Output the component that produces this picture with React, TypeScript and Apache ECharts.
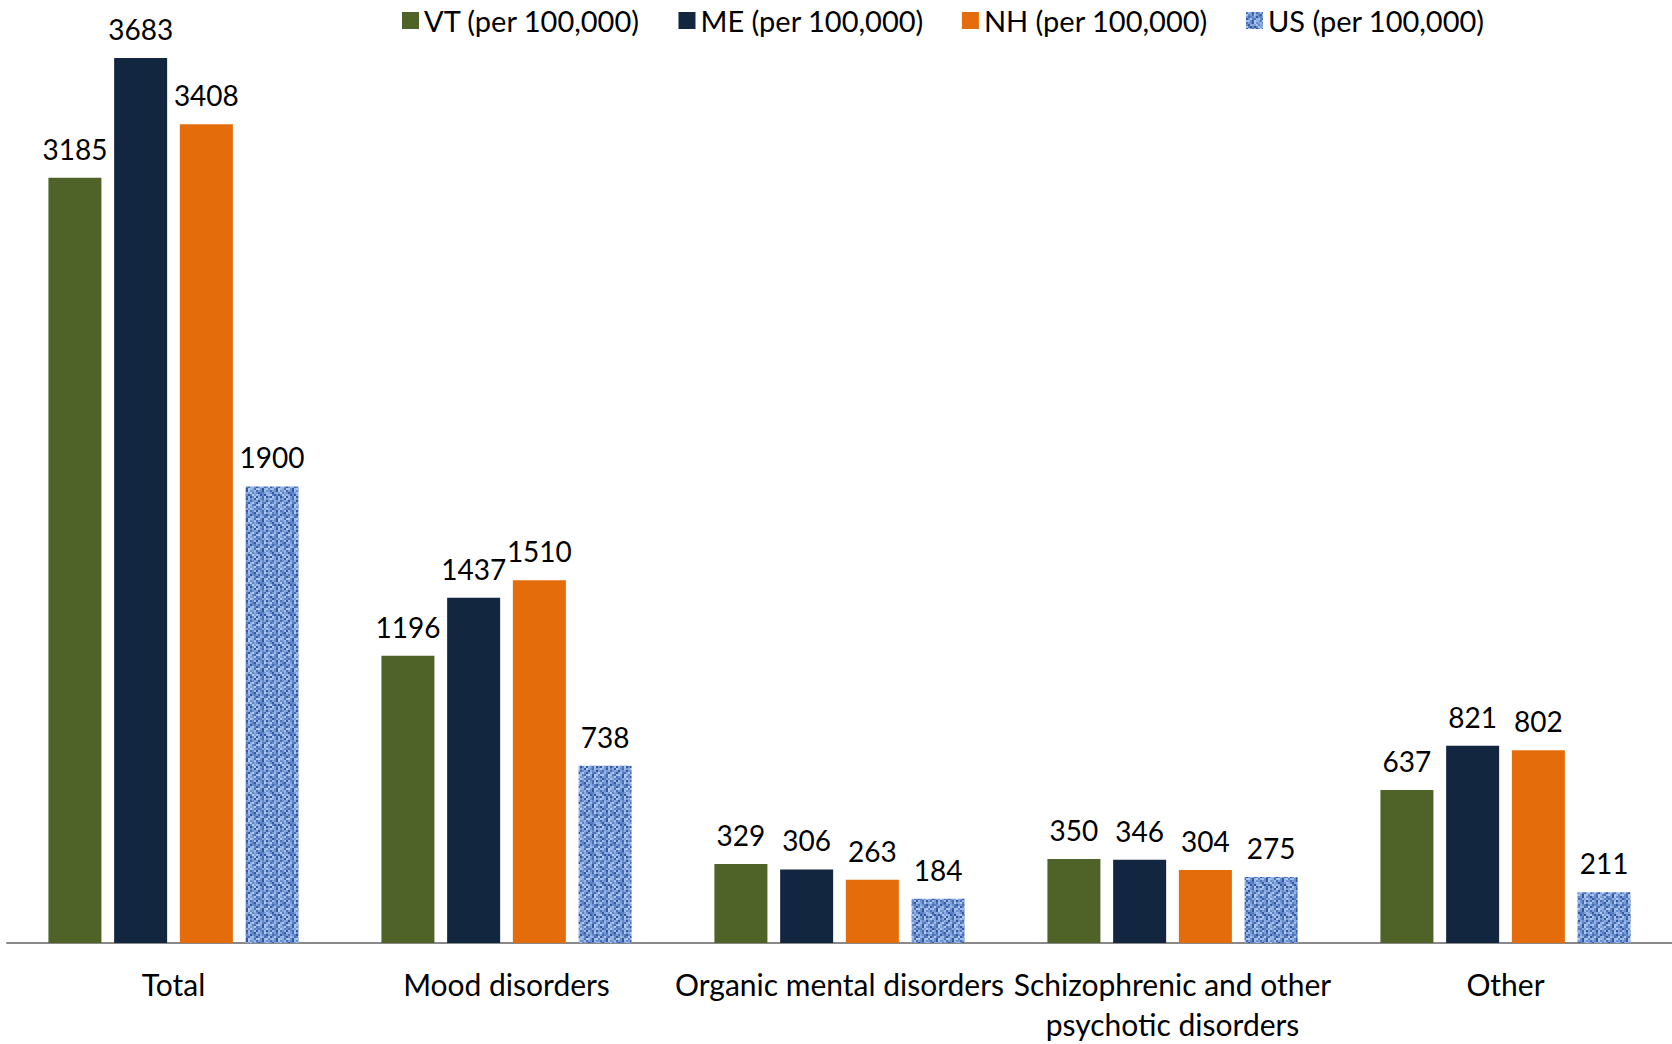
import React, { useEffect, useRef } from "react";
import * as echarts from "echarts";

const categories = [
  "Total",
  "Mood disorders",
  "Organic mental disorders",
  "Schizophrenic and other psychotic disorders",
  "Other",
];
const seriesNames = [
  "VT (per 100,000)",
  "ME (per 100,000)",
  "NH (per 100,000)",
  "US (per 100,000)",
];
const vtValues = [3185, 1196, 329, 350, 637];
const meValues = [3683, 1437, 306, 346, 821];
const nhValues = [3408, 1510, 263, 304, 802];
const usValues = [1900, 738, 184, 275, 211];

const FONT = "Lato";

function makeTexture(): HTMLCanvasElement {
  const c = document.createElement("canvas");
  const n = 30;
  c.width = n;
  c.height = n;
  const ctx = c.getContext("2d")!;
  ctx.fillStyle = "#7093d0";
  ctx.fillRect(0, 0, n, n);
  const shades = ["#4a6fb4", "#6a8fcf", "#9dbbea", "#8aaae0", "#34589e", "#7b9dd8", "#aec8f2", "#5c81c2"];
  for (let y = 0; y < n; y += 2) {
    for (let x = 0; x < n; x += 2) {
      const h = ((x * 73856093) ^ (y * 19349663) ^ ((x + 3 * y) * 83492791)) >>> 0;
      ctx.fillStyle = shades[(h >>> 3) % shades.length];
      ctx.fillRect(x, y, 2, 2);
    }
  }
  return c;
}

export default function App() {
  const ref = useRef<HTMLDivElement>(null);
  useEffect(() => {
    document.body.style.margin = "0";
    if (!ref.current) return;
    const chart = echarts.init(ref.current, undefined, { renderer: "svg" });
    const tex = makeTexture();
    const usColor: any = { image: tex, repeat: "repeat" };
    const colors = ["#4f6228", "#13263f", "#e46c0a", usColor];
    const data = [vtValues, meValues, nhValues, usValues];
    chart.setOption({
      animation: false,
      textStyle: { fontFamily: FONT },
      legend: {
        top: 1,
        left: 397,
        itemWidth: 17,
        itemHeight: 17,
        itemGap: 38,
        icon: "rect",
        textStyle: { fontFamily: FONT, fontSize: 29, color: "#000" },
        data: seriesNames,
      },
      grid: { left: 7, right: 0, top: 54, bottom: 95, containLabel: false },
      xAxis: {
        type: "category",
        data: categories,
        axisLine: { lineStyle: { color: "#898989", width: 2 } },
        axisTick: { show: false },
        axisLabel: {
          interval: 0,
          margin: 21,
          fontFamily: FONT,
          fontSize: 30,
          color: "#000",
          lineHeight: 40,
          formatter: (v: string) => v.replace("other psychotic", "other\npsychotic"),
        },
      },
      yAxis: {
        type: "value",
        min: 0,
        max: 3700,
        show: false,
        splitLine: { show: false },
      },
      series: seriesNames.map((name, i) => ({
        name,
        type: "bar",
        data: data[i],
        barWidth: 53,
        barGap: "24%",
        itemStyle: { color: colors[i] },
        label: {
          show: true,
          position: "top",
          distance: 15,
          fontFamily: FONT,
          fontSize: 28,
          color: "#000",
        },
      })),
    });
    return () => chart.dispose();
  }, []);
  return <div ref={ref} style={{ width: 1672, height: 1044 }} />;
}
